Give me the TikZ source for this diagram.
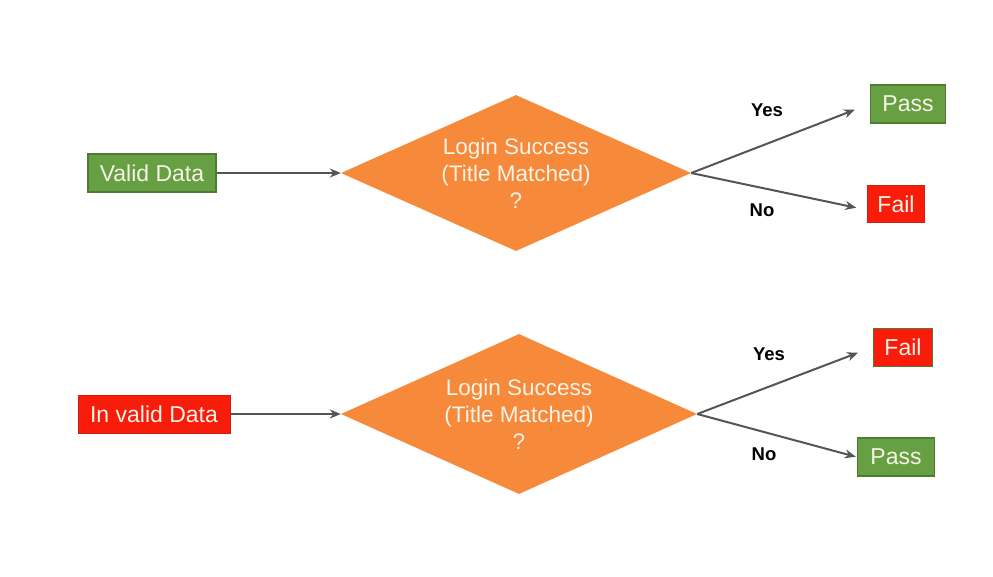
\documentclass[tikz,border=0pt]{standalone}
\usepackage{fontspec}
\setmainfont{Liberation Sans}
\usetikzlibrary{shapes.geometric,arrows.meta}
\definecolor{gfill}{HTML}{66A042}
\definecolor{gborder}{HTML}{4E7D31}
\definecolor{rfill}{HTML}{FA1C0A}
\definecolor{rborder}{HTML}{C8220F}
\definecolor{ofill}{HTML}{F6893A}
\definecolor{arr}{HTML}{555555}
\definecolor{txt}{HTML}{F6F3E8}
\tikzset{
  greenbox/.style={draw=gborder, line width=1.5pt, fill=gfill, text=txt, font=\fontsize{23}{26}\selectfont, inner sep=0pt, minimum height=38pt},
  redbox/.style={draw=rborder, line width=1pt, fill=rfill, text=txt, font=\fontsize{23}{26}\selectfont, inner sep=0pt, minimum height=38pt},
  decision/.style={diamond, fill=ofill, text=txt, inner sep=0pt, aspect=2.24, align=center, font=\fontsize{22.5}{27}\selectfont},
  conn/.style={draw=arr, line width=2pt, -{Stealth[length=11pt,width=9pt]}},
  lab/.style={font=\bfseries\fontsize{18.5}{22}\selectfont, text=black}
}
\begin{document}
\begin{tikzpicture}[x=1pt,y=-1pt]
\useasboundingbox[fill=white] (0,0) rectangle (993,576);
% top row
\node[greenbox, minimum width=128pt] (valid) at (152,173) {Valid Data};
\node[decision, minimum width=350pt, minimum height=156pt] (d1) at (516,173) {Login Success\\(Title Matched)\\?};
\node[greenbox, minimum width=75pt] (pass1) at (908,104) {Pass};
\node[redbox, minimum width=57pt, minimum height=37pt] (fail1) at (896,204) {Fail};
\draw[conn] (valid.east) -- (d1.west);
\draw[conn, shorten >=16pt] (d1.east) -- (pass1.west);
\draw[conn, shorten >=11pt] (d1.east) -- ([yshift=-6pt]fail1.west);
\node[lab] (yes1) at (767,110) {Yes};
\node[lab] (no1) at (762,210) {No};
% bottom row
\node[redbox, minimum width=152pt] (invalid) at (154,414) {In valid Data};
\node[decision, minimum width=356pt, minimum height=160pt] (d2) at (519,414) {Login Success\\(Title Matched)\\?};
\node[redbox, minimum width=59pt, draw=gborder] (fail2) at (903,347) {Fail};
\node[greenbox, minimum width=77pt] (pass2) at (896,457) {Pass};
\draw[conn] (invalid.east) -- (d2.west);
\draw[conn, shorten >=16pt] (d2.east) -- (fail2.west);
\draw[conn, shorten >=1pt] (d2.east) -- (pass2.west);
\node[lab] (yes2) at (769,354) {Yes};
\node[lab] (no2) at (764,454) {No};
\end{tikzpicture}
\end{document}
